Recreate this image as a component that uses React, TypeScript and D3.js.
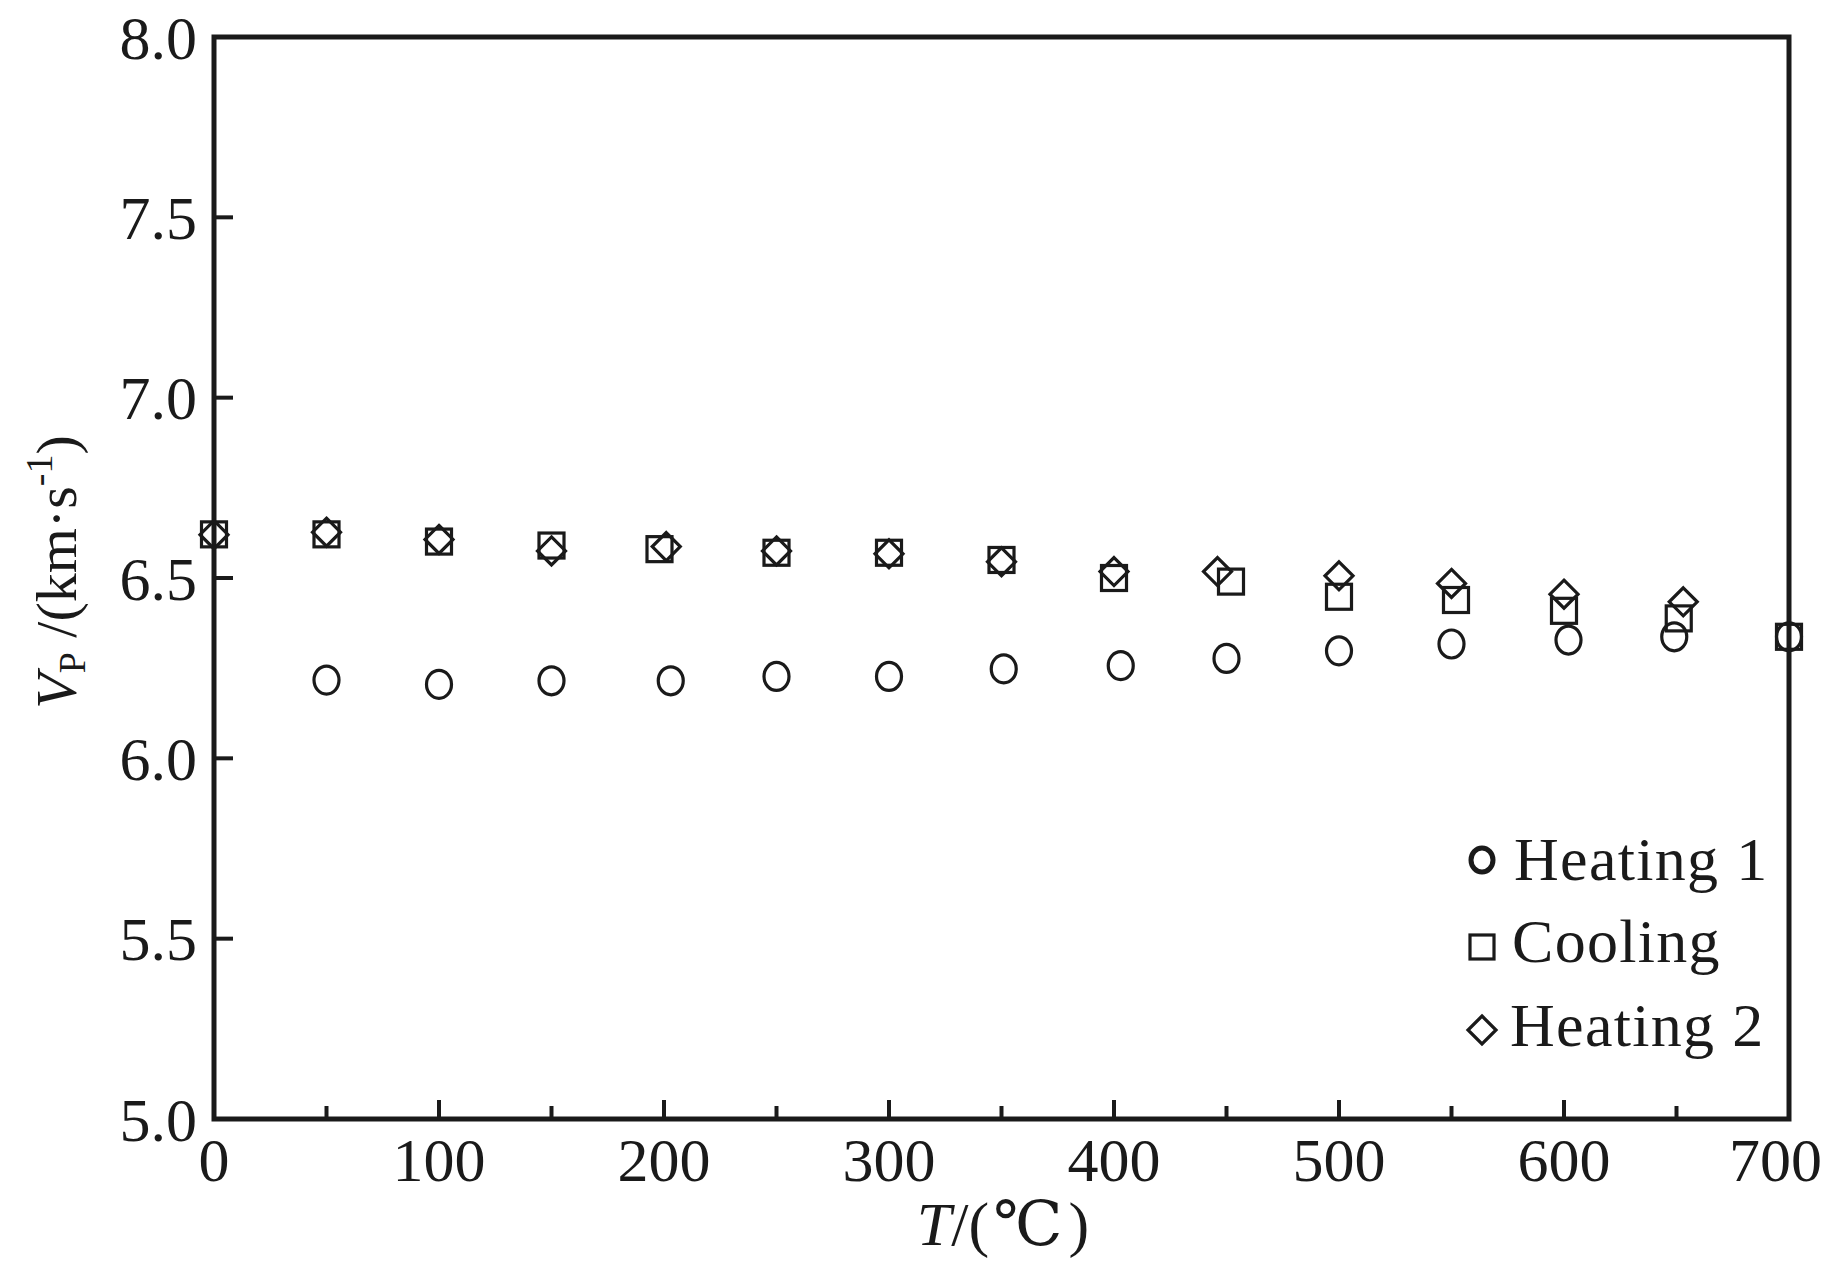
import React from "react";
import * as d3 from "d3";

const heating1T = [50, 100, 150, 203, 250, 300, 351, 403, 450, 500, 550, 602, 649, 700];
const heating1V = [6.217, 6.205, 6.215, 6.215, 6.227, 6.227, 6.248, 6.257, 6.277, 6.298, 6.317, 6.328, 6.337, 6.337];

const coolingT = [0, 50, 100, 150, 198, 250, 300, 350, 400, 452, 500, 552, 600, 651, 700];
const coolingV = [6.621, 6.621, 6.601, 6.59, 6.58, 6.57, 6.57, 6.55, 6.5, 6.49, 6.448, 6.439, 6.409, 6.388, 6.337];

const heating2T = [0, 50, 100, 150, 201, 250, 300, 350, 400, 446, 500, 550, 600, 653];
const heating2V = [6.62, 6.627, 6.607, 6.575, 6.587, 6.575, 6.567, 6.545, 6.518, 6.518, 6.506, 6.485, 6.455, 6.434];

const xMajorTicks = [0, 100, 200, 300, 400, 500, 600, 700];
const xMinorTicks = [50, 150, 250, 350, 450, 550, 650];
const yTicks = [5.0, 5.5, 6.0, 6.5, 7.0, 7.5, 8.0];

const legendLabels = ["Heating 1", "Cooling", "Heating 2"];

const W = 1826;
const H = 1264;
const L = 214, R = 1789, T = 37, B = 1119;
const INK = "#1a1a1a";
const FONT = "Liberation Serif, Times New Roman, DejaVu Serif, serif";

export default function App() {
  const x = d3.scaleLinear().domain([0, 700]).range([L, R]);
  const y = d3.scaleLinear().domain([5, 8]).range([B, T]);
  const sw = 3.2;

  const circle = (cx: number, cy: number, k: string, w = sw, rx = 12.5, ry = 14) => (
    <ellipse key={k} cx={cx} cy={cy} rx={rx} ry={ry} fill="none" stroke={INK} strokeWidth={w} />
  );
  const square = (cx: number, cy: number, k: string, h = 12.5) => (
    <rect key={k} x={cx - h} y={cy - h} width={2 * h} height={2 * h} fill="none" stroke={INK} strokeWidth={sw} />
  );
  const diamond = (cx: number, cy: number, k: string, h = 14) => (
    <path key={k} d={`M${cx},${cy - h}L${cx + h},${cy}L${cx},${cy + h}L${cx - h},${cy}Z`} fill="none" stroke={INK} strokeWidth={sw} strokeLinejoin="miter" />
  );

  return (
    <svg width={W} height={H} style={{ position: "absolute", left: 0, top: 0, background: "#fff" }} fontFamily={FONT}>
      <rect x={0} y={0} width={W} height={H} fill="#fff" />
      {/* ticks */}
      {xMajorTicks.map((t) => (
        <line key={"xm" + t} x1={x(t)} x2={x(t)} y1={B} y2={B - 19} stroke={INK} strokeWidth={4} />
      ))}
      {xMinorTicks.map((t) => (
        <line key={"xn" + t} x1={x(t)} x2={x(t)} y1={B} y2={B - 13} stroke={INK} strokeWidth={4} />
      ))}
      {yTicks.map((t) => (
        <line key={"ym" + t} x1={L} x2={L + 19} y1={y(t)} y2={y(t)} stroke={INK} strokeWidth={4} />
      ))}
      {/* frame */}
      <rect x={L} y={T} width={R - L} height={B - T} fill="none" stroke={INK} strokeWidth={5} />
      {/* tick labels */}
      {yTicks.map((t) => (
        <text key={"yl" + t} x={197} y={y(t)} dy="0.35em" textAnchor="end" fontSize={62} fill={INK}>
          {t.toFixed(1)}
        </text>
      ))}
      {xMajorTicks.map((t, i) => {
        const last = i === xMajorTicks.length - 1;
        return (
          <text key={"xl" + t} x={last ? 1822 : x(t)} y={1181} textAnchor={last ? "end" : "middle"} fontSize={62} fill={INK}>
            {t}
          </text>
        );
      })}
      {/* axis titles */}
      <text x={1003} y={1245} textAnchor="middle" fontSize={62} fill={INK}>
        <tspan fontStyle="italic">T</tspan>
        <tspan>/(</tspan>
        <tspan dx={4}>℃</tspan>
        <tspan dx={6}>)</tspan>
      </text>
      <text transform="translate(76,572) rotate(-90)" textAnchor="middle" fontSize={58} fill={INK}>
        <tspan fontStyle="italic">V</tspan>
        <tspan fontSize={38} dy={9}>P</tspan>
        <tspan dy={-9}> /(km·s</tspan>
        <tspan fontSize={38} dy={-24}>-1</tspan>
        <tspan dy={24}>)</tspan>
      </text>
      {/* data */}
      {coolingT.map((t, i) => square(x(t), y(coolingV[i]), "c" + i))}
      {heating2T.map((t, i) => diamond(x(t), y(heating2V[i]), "h2" + i))}
      {heating1T.map((t, i) => circle(x(t), y(heating1V[i]), "h1" + i))}
      {/* legend */}
      {circle(1482, 860, "lg1", 5, 11, 12)}
      {square(1482, 947, "lg2", 12)}
      {diamond(1482, 1030, "lg3", 14)}
      <text x={1514} y={880} fontSize={62} letterSpacing={1.3} fill={INK}>{legendLabels[0]}</text>
      <text x={1512} y={962} fontSize={62} letterSpacing={1.3} fill={INK}>{legendLabels[1]}</text>
      <text x={1510} y={1046} fontSize={62} letterSpacing={1.3} fill={INK}>{legendLabels[2]}</text>
    </svg>
  );
}
